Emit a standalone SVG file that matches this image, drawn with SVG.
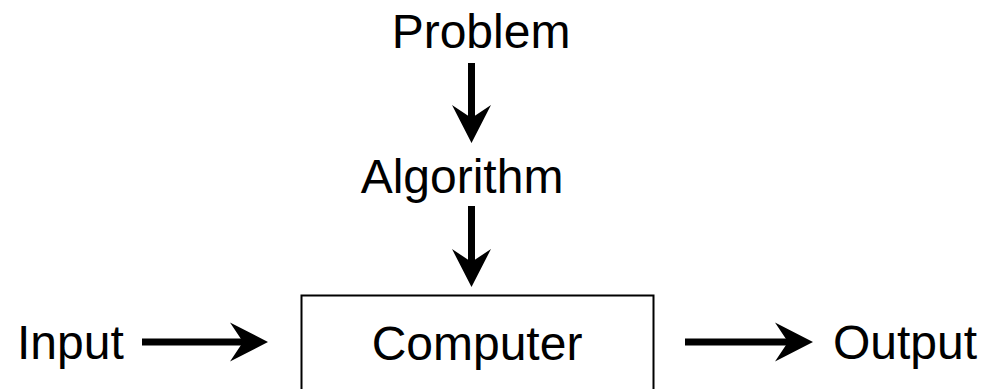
<svg xmlns="http://www.w3.org/2000/svg" width="984" height="389" viewBox="0 0 984 389">
  <style>
    .lbl { font-family: "Liberation Sans", Arial, Helvetica, sans-serif; font-size: 48px; fill: #000; }
    .box { fill: #fff; stroke: #000; stroke-width: 2; }
    .edge { stroke: #000; stroke-width: 7; fill: none; marker-end: url(#head); }
  </style>
  <defs>
    <marker id="head" viewBox="-14 -20 40 40" markerWidth="40" markerHeight="40" markerUnits="userSpaceOnUse" refX="3" refY="0" orient="auto">
      <path d="M-13,-19.5 L25,0 L-13,19.5 L0,0 Z" fill="#000"/>
    </marker>
  </defs>
  <rect width="984" height="389" fill="#fff"/>
  <g id="problem"><text class="lbl" x="481" y="48" text-anchor="middle">Problem</text></g>
  <g id="algorithm"><text class="lbl" x="462" y="193" text-anchor="middle">Algorithm</text></g>
  <g id="computer">
    <rect class="box" x="301.5" y="295.5" width="352" height="120"/>
    <text class="lbl" x="477" y="360" text-anchor="middle">Computer</text>
  </g>
  <g id="input"><text class="lbl" x="17" y="359">Input</text></g>
  <g id="output"><text class="lbl" x="833" y="359">Output</text></g>
  <g id="connectors">
    <line class="edge" x1="471.5" y1="63" x2="471.5" y2="121"/>
    <line class="edge" x1="471.5" y1="206" x2="471.5" y2="265"/>
    <line class="edge" x1="142" y1="342" x2="246" y2="342"/>
    <line class="edge" x1="685" y1="342" x2="791" y2="342"/>
  </g>
</svg>
